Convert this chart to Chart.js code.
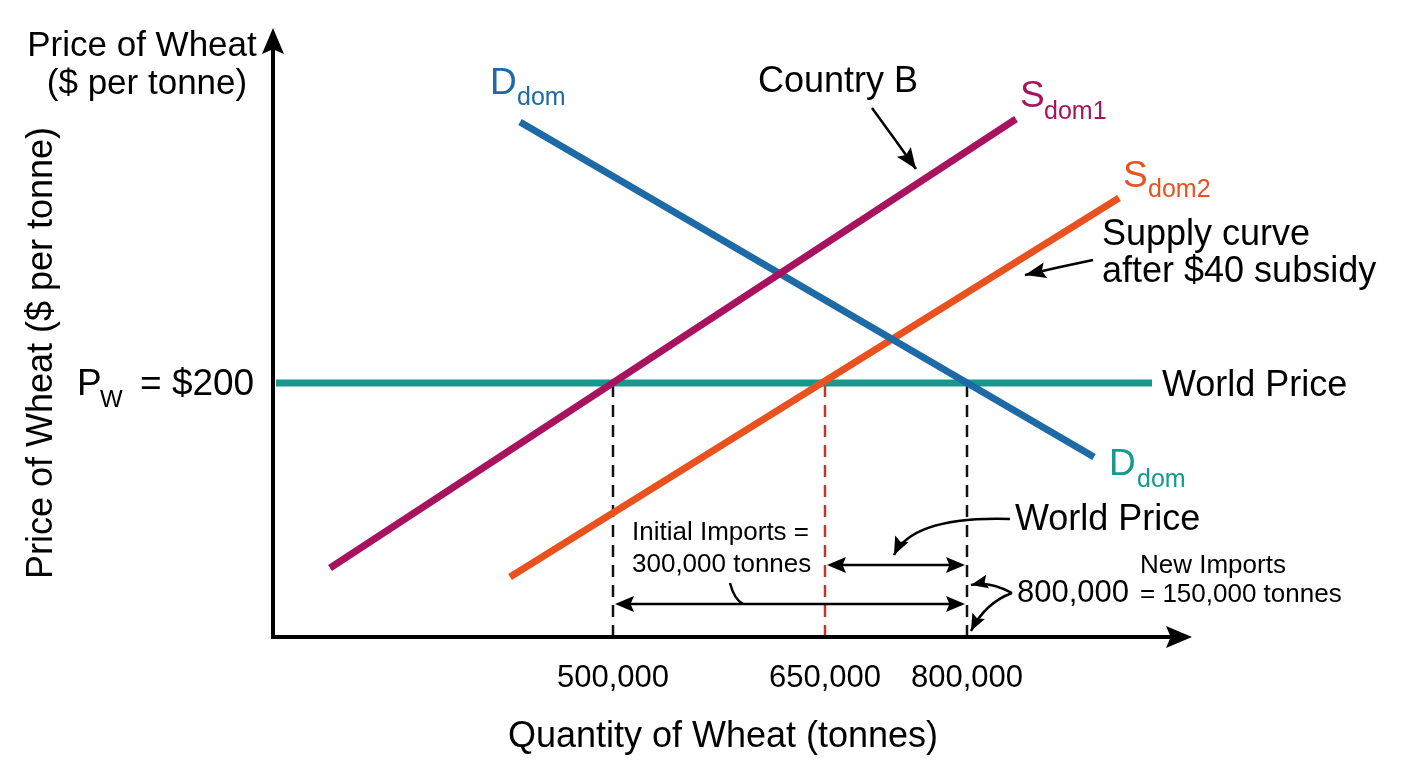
<!DOCTYPE html>
<html>
<head>
<meta charset="utf-8">
<script src="https://cdn.jsdelivr.net/npm/chart.js@4/dist/chart.umd.min.js"></script>
<style>
  html, body { margin: 0; padding: 0; background: #ffffff; }
  #wrap { width: 1408px; height: 768px; position: relative; }
</style>
</head>
<body>
<div id="wrap"><canvas id="c"></canvas></div>
<script>
// ---- Data (diagram units: x = quantity position, y = price position; not to scale) ----
const quantityTicks = [340, 552, 694];          // positions of the labelled quantities
const quantityLabels = ['500,000', '650,000', '800,000'];
const worldPriceLevel = 254;                    // P_W = $200
const worldPriceRange = [3, 879];
const demandQ = [247, 821];
const demandP = [515, 180];
const supply1Q = [57, 743];
const supply1P = [69, 518];
const supply2Q = [237, 846];
const supply2P = [60, 439];
const initialImports = [340, 694];              // 500,000 -> 800,000
const newImports = [552, 694];                  // 650,000 -> 800,000
const initialImportsLevel = 33;
const newImportsLevel = 72;

const FONT = '"Liberation Sans", Arial, Helvetica, sans-serif';
const BLUE = '#1d6aa6', MAGENTA = '#a8135f', ORANGE = '#e9521f', TEAL = '#16998b', RED = '#c0392b';

function pts(qs, ps) { return qs.map((q, i) => ({ x: q, y: ps[i] })); }

const datasets = [
  { label: 'S dom1', data: pts(supply1Q, supply1P), borderColor: MAGENTA, borderWidth: 7, order: 1 },
  { label: 'D dom', data: pts(demandQ, demandP), borderColor: BLUE, borderWidth: 7, order: 2 },
  { label: 'S dom2', data: pts(supply2Q, supply2P), borderColor: ORANGE, borderWidth: 7, order: 3 },
  { label: 'World Price', data: pts(worldPriceRange, [worldPriceLevel, worldPriceLevel]), borderColor: TEAL, borderWidth: 7, order: 4 },
  { label: 'q500', data: pts([quantityTicks[0], quantityTicks[0]], [0, worldPriceLevel]), borderColor: '#111', borderWidth: 2.5, borderDash: [12, 8], order: 5 },
  { label: 'q650', data: pts([quantityTicks[1], quantityTicks[1]], [0, worldPriceLevel]), borderColor: RED, borderWidth: 2.5, borderDash: [12, 8], order: 5 },
  { label: 'q800', data: pts([quantityTicks[2], quantityTicks[2]], [0, worldPriceLevel]), borderColor: '#111', borderWidth: 2.5, borderDash: [12, 8], order: 5 }
].map(d => Object.assign({ pointRadius: 0, borderCapStyle: 'butt', fill: false, tension: 0 }, d));

function arrowHead(ctx, x, y, ang, len, wid) {
  ctx.save();
  ctx.translate(x, y);
  ctx.rotate(ang);
  ctx.beginPath();
  ctx.moveTo(0, 0);
  ctx.lineTo(-len, -wid / 2);
  ctx.lineTo(-len * 0.82, 0);
  ctx.lineTo(-len, wid / 2);
  ctx.closePath();
  ctx.fill();
  ctx.restore();
}

const diagramPlugin = {
  id: 'diagram',
  afterDatasetsDraw(chart) {
    const ctx = chart.ctx;
    const xs = chart.scales.x, ys = chart.scales.y;
    const X = v => xs.getPixelForValue(v), Y = v => ys.getPixelForValue(v);
    ctx.save();
    ctx.fillStyle = '#000'; ctx.strokeStyle = '#000';

    // axes
    ctx.lineWidth = 4;
    ctx.beginPath();
    ctx.moveTo(X(0), Y(0) + 2); ctx.lineTo(X(0), Y(590));
    ctx.moveTo(X(-2), Y(0)); ctx.lineTo(X(900), Y(0));
    ctx.stroke();
    arrowHead(ctx, X(0), Y(609), -Math.PI / 2, 26, 22);
    arrowHead(ctx, X(919), Y(0), 0, 26, 22);

    // import arrows
    ctx.lineWidth = 2.5;
    function dbl(a, b, lvl) {
      const y = Y(lvl), x1 = X(a) + 2, x2 = X(b) - 2;
      ctx.beginPath(); ctx.moveTo(x1 + 10, y); ctx.lineTo(x2 - 10, y); ctx.stroke();
      arrowHead(ctx, x1, y, Math.PI, 19, 16);
      arrowHead(ctx, x2, y, 0, 19, 16);
    }
    dbl(newImports[0], newImports[1], newImportsLevel);
    dbl(initialImports[0], initialImports[1], initialImportsLevel);

    // curved / straight annotation arrows
    function curve(p0, c, p1, head, hl, hw) {
      ctx.beginPath();
      ctx.moveTo(X(p0[0]), Y(p0[1]));
      ctx.quadraticCurveTo(X(c[0]), Y(c[1]), X(p1[0]), Y(p1[1]));
      ctx.stroke();
      if (head) {
        const ang = Math.atan2(Y(p1[1]) - Y(c[1]), X(p1[0]) - X(c[0]));
        arrowHead(ctx, X(p1[0]), Y(p1[1]), ang, hl || 17, hw || 14);
      }
    }
    ctx.lineWidth = 2.5;
    curve([599, 529], [621, 499], [643, 468], true, 21, 17);   // Country B
    curve([820, 377], [786, 370], [752, 362], true, 21, 16);   // Supply curve after subsidy
    curve([737, 118], [640, 121], [621, 82], true, 18, 15);    // World Price (mid)
    curve([739, 44], [717, 56], [698, 52], true);              // 800,000 upper
    curve([739, 44], [712, 34], [698, 6], true);               // 800,000 lower
    curve([457, 54], [461, 38], [470, 33], false);             // bracket to initial imports

    // text helper
    function T(txt, x, y, size, color, align, rot) {
      ctx.save();
      ctx.font = size + 'px ' + FONT;
      ctx.fillStyle = color || '#000';
      ctx.textAlign = align || 'left';
      ctx.textBaseline = 'alphabetic';
      ctx.translate(X(x), Y(y));
      if (rot) ctx.rotate(rot);
      ctx.fillText(txt, 0, 0);
      ctx.restore();
    }

    // axis titles
    T('Price of Wheat', -131, 581, 35, '#000', 'center');
    T('($ per tonne)', -126, 543, 35, '#000', 'center');
    T('Price of Wheat ($ per tonne)', -221, 284, 36, '#000', 'center', -Math.PI / 2);
    T('Quantity of Wheat (tonnes)', 450, -110, 36, '#000', 'center');

    // quantity tick labels
    quantityTicks.forEach((q, i) => T(quantityLabels[i], q, -50, 31, '#000', 'center'));

    // price label
    T('P', -196, 242, 37);
    T('W', -173, 230, 24);
    T('= $200', -133, 242, 37);

    // curve labels
    T('D', 217, 543, 37, BLUE); T('dom', 244, 532, 25, BLUE);
    T('Country B', 485, 545, 36);
    T('S', 747, 530, 37, MAGENTA); T('dom1', 771, 518, 25, MAGENTA);
    T('S', 850, 450, 37, ORANGE); T('dom2', 875, 440, 25, ORANGE);
    T('Supply curve', 829, 392, 36);
    T('after $40 subsidy', 829, 355, 36);
    T('World Price', 889, 241, 36);
    T('D', 836, 162, 37, TEAL); T('dom', 864, 150, 25, TEAL);
    T('World Price', 742, 107, 36);
    T('Initial Imports =', 359, 97, 26);
    T('300,000 tonnes', 359, 65, 26);
    T('New Imports', 867, 64, 26);
    T('800,000', 744, 35, 31);
    T('= 150,000 tonnes', 867, 35, 26);

    ctx.restore();
  }
};

new Chart(document.getElementById('c'), {
  type: 'line',
  data: { datasets },
  options: {
    responsive: true,
    maintainAspectRatio: false,
    animation: false,
    layout: { padding: { left: 273, right: 216, top: 28, bottom: 131 } },
    plugins: { legend: { display: false }, tooltip: { enabled: false } },
    scales: {
      x: { type: 'linear', min: 0, max: 919, display: false },
      y: { type: 'linear', min: 0, max: 609, display: false }
    }
  },
  plugins: [diagramPlugin]
});
</script>
</body>
</html>
